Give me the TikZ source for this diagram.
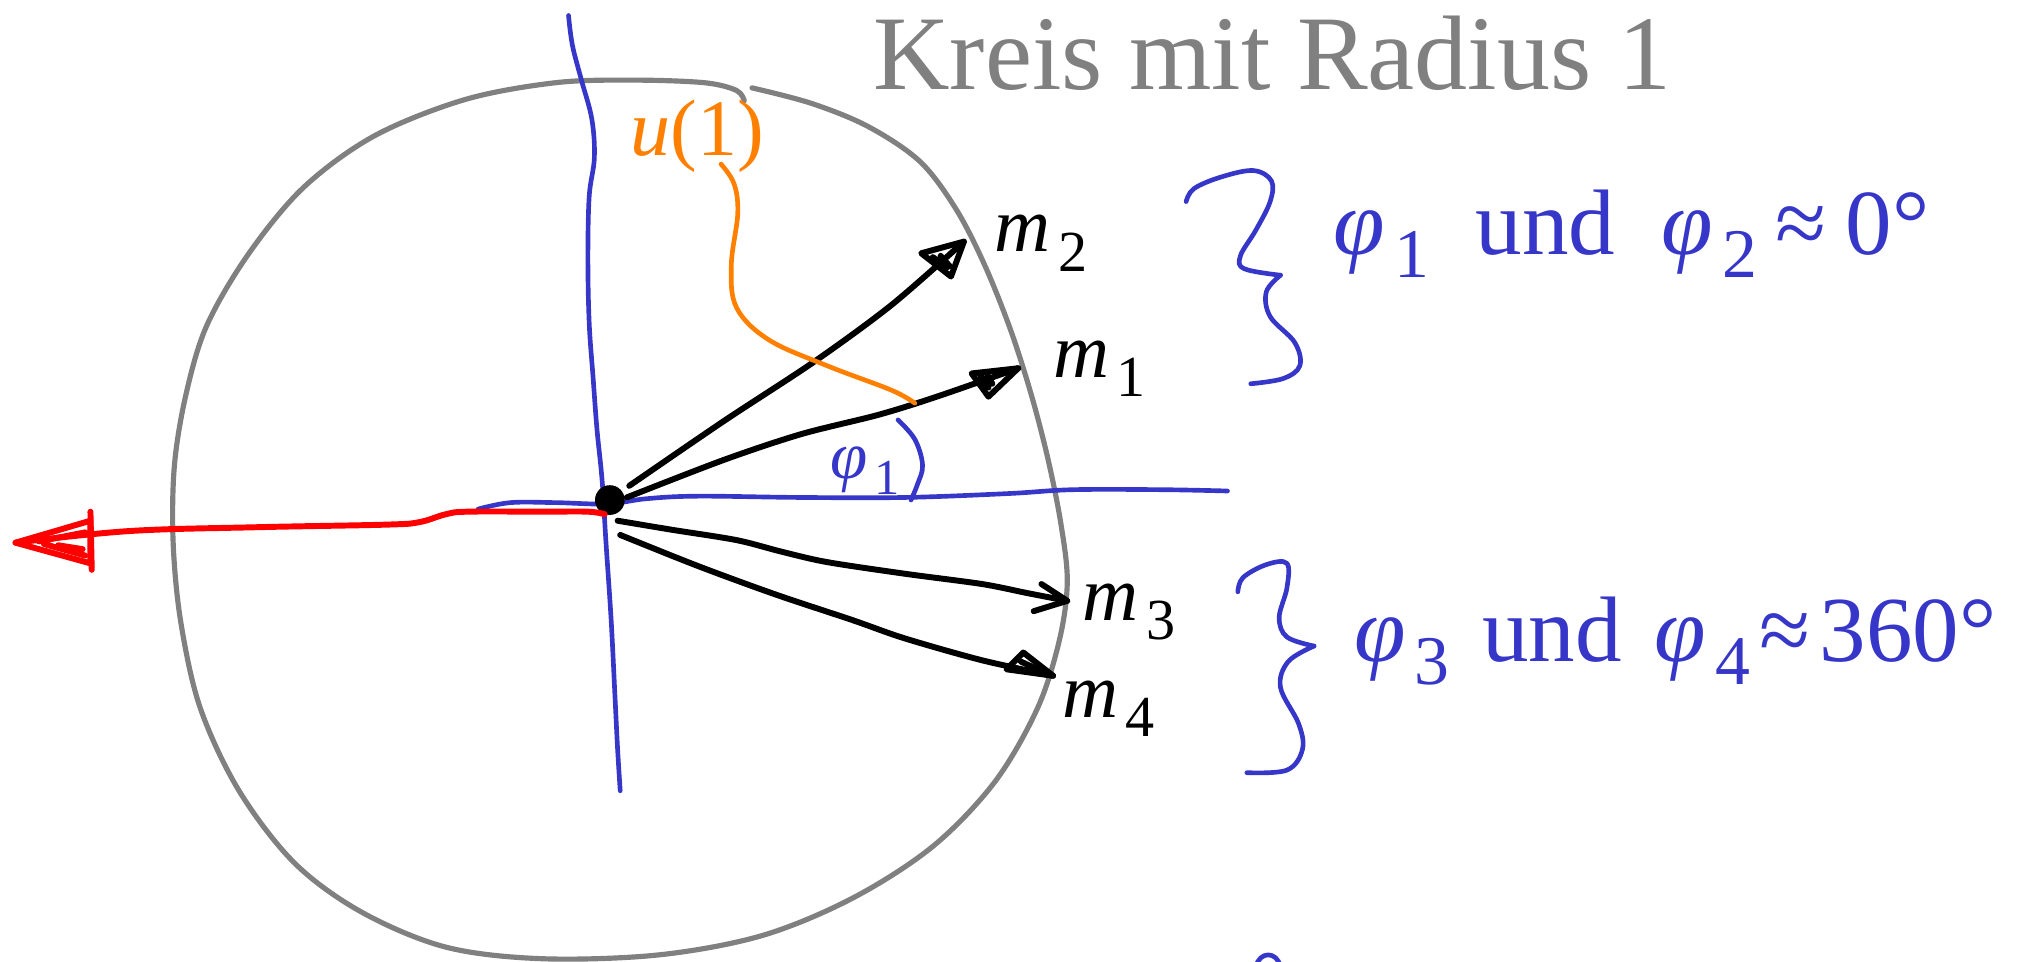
\documentclass[tikz,border=0pt]{standalone}
\usepackage{fontspec}
\setmainfont{Liberation Serif}
\usetikzlibrary{calc}
\definecolor{penblue}{HTML}{3636C8}
\definecolor{pengray}{HTML}{808080}
\definecolor{penred}{HTML}{FF0000}
\definecolor{penorange}{HTML}{FF8000}
\newcommand\lowsub[1]{\hspace{0.1em}\raisebox{-0.25em}{\scalebox{0.75}{#1}}}
\begin{document}
\begin{tikzpicture}[x=1pt,y=-1pt,line cap=round,line join=round,
  graypen/.style={draw=pengray,line width=4pt},
  bluepen/.style={draw=penblue,line width=3.6pt},
  blackpen/.style={draw=black,line width=4.6pt},
  redpen/.style={draw=penred,line width=4.6pt},
  orangepen/.style={draw=penorange,line width=3.6pt},
  lbl/.style={inner sep=0pt,outer sep=0pt,anchor=base west},
  blacklbl/.style={lbl,text=black,font=\fontsize{60}{66}\selectfont},
  bluelbl/.style={lbl,text=penblue,font=\fontsize{72}{80}\selectfont},
]
\useasboundingbox (0,0) rectangle (1568,744);

% circle of radius 1 (hand drawn)
\draw[graypen] plot[smooth,tension=0.55] coordinates {
  (576,78) (570,70) (545,64) (490,62) (430,64) (360,77) (290,105) (235,145)
  (192,197) (160,252) (144,305) (135,360) (134,420) (140,482) (155,548)
  (185,612) (228,668) (280,706) (345,733) (420,742) (510,739) (590,724)
  (660,695) (722,655) (770,605) (803,548) (820,495) (826,450) (821,405)
  (811,355) (798,305) (782,255) (762,205) (740,162) (712,125) (672,98)
  (628,80) (582,68)};

% axes
\draw[bluepen] plot[smooth,tension=0.6] coordinates {
  (440,12) (443,35) (450,62) (458,92) (460,122) (456,152) (455,200)
  (456,250) (459,292) (462,332) (466,372) (469,420) (473,480) (476,540)
  (478,580) (480,612)};
\draw[bluepen] plot[smooth,tension=0.6] coordinates {
  (370,394) (395,389) (430,389) (470,390) (500,386) (540,384) (620,385)
  (700,385) (780,382) (830,379) (900,379) (950,380)};

% origin
\node[circle,fill=black,minimum width=21pt,minimum height=23pt,inner sep=0pt] (O) at (472,387) {};

% red arrow to the left
\coordinate (rtip) at (12,420);
\draw[redpen] plot[smooth,tension=0.6] coordinates {
  (468,398) (455,396) (420,396) (362,396) (345,398) (325,404) (300,406)
  (200,408) (100,411) (rtip)};
\draw[redpen] (rtip) -- (70,403) -- (70,436) -- cycle;
\draw[redpen] (70,396) -- (71,441);
\draw[redpen] (30,419) -- (66,412) (34,421) -- (66,430) (45,422) -- (64,425);

% vectors
\coordinate (t2) at (746,187);
\coordinate (t1) at (788,285);
\coordinate (t3) at (826,465);
\coordinate (t4) at (815,523);
\draw[blackpen] plot[smooth,tension=0.5] coordinates {
  ($(O)+(15,-11)$) (560,326) (630,280) (690,236) (t2)};
\draw[blackpen] (t2) -- (713,196) -- (736,214) -- cycle;
\draw[blackpen] (722,199) -- (733,207) (728,198) -- (735,206);
\draw[blackpen] plot[smooth,tension=0.5] coordinates {
  ($(O)+(13,-2)$) (560,356) (620,336) (680,321) (725,307) (t1)};
\draw[blackpen] (t1) -- (752,289) -- (765,307) -- cycle;
\draw[blackpen] (759,291) -- (765,300) (764,290) -- (768,297);
\draw[blackpen] plot[smooth,tension=0.5] coordinates {
  ($(O)+(6,16)$) (520,410) (570,418) (605,427) (640,435) (700,444)
  (760,452) (795,459) (t3)};
\draw[blackpen] (806,452) -- (t3) -- (800,473);
\draw[blackpen] plot[smooth,tension=0.5] coordinates {
  ($(O)+(8,27)$) (540,438) (600,460) (660,480) (700,494) (760,511) (t4)};
\draw[blackpen] (t4) -- (792,505) -- (779,518) -- cycle;
\draw[blackpen] (786,518) -- (808,521) (790,512) -- (803,518);

\node[blacklbl] (m2) at (770,195) {\textit{m}\lowsub{2}};
\node[blacklbl] (m1) at (815,292) {\textit{m}\lowsub{1}};
\node[blacklbl] (m3) at (838,480) {\textit{m}\lowsub{3}};
\node[blacklbl] (m4) at (822,555) {\textit{m}\lowsub{4}};

% angle phi_1
\node[lbl,text=penblue,font=\fontsize{52}{56}\selectfont] (phi1) at (643,370) {\textit{φ}\lowsub{1}};
\draw[bluepen] plot[smooth,tension=0.6] coordinates {
  (695,325) (708,340) (714,360) (710,375) (705,387)};

% orange label u(1)
\node[lbl,text=penorange,font=\fontsize{62}{66}\selectfont] (u1) at (488,120) {\textit{u}(1)};
\coordinate (uend) at (708,312);
\draw[orangepen] plot[smooth,tension=0.6] coordinates {
  (558,127) (568,142) (571,165) (566,205) (570,238) (595,263) (640,283)
  (690,302) (uend)};

% title
\node[lbl,text=pengray,font=\fontsize{82}{90}\selectfont] (title) at (676,69) {Kreis mit Radius 1};

% braces
\coordinate (b1tip) at (991,213);
\draw[bluepen] plot[smooth,tension=0.6] coordinates {
  (918,156) (924,146) (945,137) (970,132) (984,140) (983,156) (972,178)
  (960,198) (963,208) (b1tip)};
\draw[bluepen] plot[smooth,tension=0.6] coordinates {
  (b1tip) (980,226) (983,245) (1002,265) (1006,283) (993,293) (968,297)};
\coordinate (b2tip) at (1017,500);
\draw[bluepen] plot[smooth,tension=0.6] coordinates {
  (958,458) (962,447) (980,437) (996,436) (996,455) (990,478) (996,493) (b2tip)};
\draw[bluepen] plot[smooth,tension=0.6] coordinates {
  (b2tip) (997,512) (991,532) (1005,560) (1008,580) (996,596) (965,598)};

\node[bluelbl] (eq12) at (1032,197) {\textit{φ}\lowsub{1}\hspace{0.5em}und\hspace{0.5em}\textit{φ}\lowsub{2}\hspace{0.2em}≈\hspace{0.2em}0°};
\node[bluelbl] (eq34) at (1048,512) {\textit{φ}\lowsub{3}\hspace{0.35em}und\hspace{0.35em}\textit{φ}\lowsub{4}\hspace{0.1em}≈\hspace{0.1em}360°};

% partial stroke at the bottom edge
\draw[bluepen] (972,748) .. controls (975,736) and (988,736) .. (991,748);
\end{tikzpicture}
\end{document}
